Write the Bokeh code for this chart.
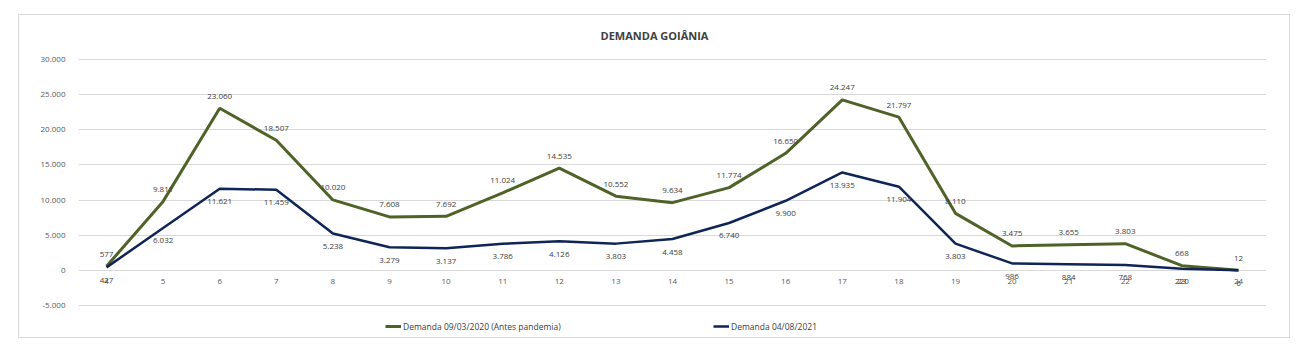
from bokeh.plotting import figure
from bokeh.models import (Range1d, FixedTicker, CustomJSTickFormatter, ColumnDataSource,
                          LabelSet, Legend, LegendItem, Label)
from bokeh.core.properties import value
from bokeh.embed import file_html
from bokeh.resources import INLINE

hours = [4, 5, 6, 7, 8, 9, 10, 11, 12, 13, 14, 15, 16, 17, 18, 19, 20, 21, 22, 23, 24]
demanda_2020 = [577, 9811, 23060, 18507, 10020, 7608, 7692, 11024, 14535, 10552, 9634,
                11774, 16650, 24247, 21797, 8110, 3475, 3655, 3803, 668, 12]
demanda_2021 = [427, 6032, 11621, 11459, 5238, 3279, 3137, 3786, 4126, 3803, 4458,
                6740, 9900, 13935, 11904, 3803, 986, 884, 768, 220, 6]
y_ticks = [-5000, 0, 5000, 10000, 15000, 20000, 25000, 30000]
title_text = "DEMANDA GOIÂNIA"
name_2020 = "Demanda 09/03/2020 (Antes pandemia)"
name_2021 = "Demanda 04/08/2021"

GREEN = "#4f6228"
BLUE = "#0f2557"
FONT = "Open Sans"


def fmt(v):
    return "{:,}".format(v).replace(",", ".")


src = ColumnDataSource(dict(
    x=hours, a=demanda_2020, b=demanda_2021, zero=[0] * len(hours),
    la=[fmt(v) for v in demanda_2020], lb=[fmt(v) for v in demanda_2021],
    hl=[str(h) for h in hours],
))

# frame spans the full chart box height; 30.000 sits 43px below its top, -5.000 33px above its bottom
upp = 35000 / 246.0
p = figure(width=1272, height=324, output_backend="svg", toolbar_location=None,
           x_range=Range1d(3.505, 24.495),
           y_range=Range1d(-5000 - 33 * upp, 30000 + 43 * upp),
           min_border_left=59, min_border_right=25, min_border_top=1, min_border_bottom=1,
           x_axis_location=None)
p.styles = {"border": "1px solid #d9d9d9", "margin-left": "18px", "margin-top": "14px"}
p.outline_line_color = None
p.background_fill_color = "white"
p.border_fill_color = "white"

p.yaxis.ticker = FixedTicker(ticks=y_ticks)
p.yaxis.formatter = CustomJSTickFormatter(code="""
const s = Math.abs(tick).toString().replace(/\\B(?=(\\d{3})+(?!\\d))/g, '.');
return (tick < 0 ? '-' : '') + s;
""")
p.yaxis.axis_line_color = None
p.yaxis.major_tick_line_color = None
p.yaxis.minor_tick_line_color = None
p.yaxis.major_label_text_font = FONT
p.yaxis.major_label_text_font_size = "8px"
p.yaxis.major_label_text_color = "#595959"
p.yaxis.major_label_standoff = 7

p.xgrid.grid_line_color = None
p.ygrid.ticker = FixedTicker(ticks=y_ticks)
p.ygrid.grid_line_color = "#d9d9d9"
p.ygrid.grid_line_width = 1

r1 = p.line("x", "a", source=src, line_color=GREEN, line_width=3)
r2 = p.line("x", "b", source=src, line_color=BLUE, line_width=2.5)

# category (hour) labels under the zero line
p.add_layout(LabelSet(x="x", y="zero", text="hl", source=src, text_align="center",
                      text_baseline="middle", y_offset=-11, text_font=value(FONT),
                      text_font_size="8px", text_color="#595959"))

p.add_layout(LabelSet(x="x", y="a", text="la", source=src, text_align="center",
                      text_baseline="middle", y_offset=12, text_font=value(FONT),
                      text_font_size="8px", text_color="#404040"))
p.add_layout(LabelSet(x="x", y="b", text="lb", source=src, text_align="center",
                      text_baseline="middle", y_offset=-13, text_font=value(FONT),
                      text_font_size="8px", text_color="#404040"))

p.add_layout(Label(x=576, y=303, x_units="screen", y_units="screen", text=title_text,
                   text_align="center", text_baseline="middle", text_font=FONT,
                   text_font_size="11px", text_font_style="bold", text_color="#404040"))

for name, r, loc in [(name_2020, r1, (307, 6)), (name_2021, r2, (635, 6))]:
    lg = Legend(items=[LegendItem(label=name, renderers=[r])], location=loc,
                orientation="horizontal", padding=0, margin=0, border_line_color=None,
                background_fill_alpha=0, glyph_width=16, glyph_height=12, label_standoff=2,
                label_text_font=FONT, label_text_font_size="8.5px", label_text_color="#404040")
    p.add_layout(lg, "center")

open("out.html", "w").write(file_html(p, INLINE))
